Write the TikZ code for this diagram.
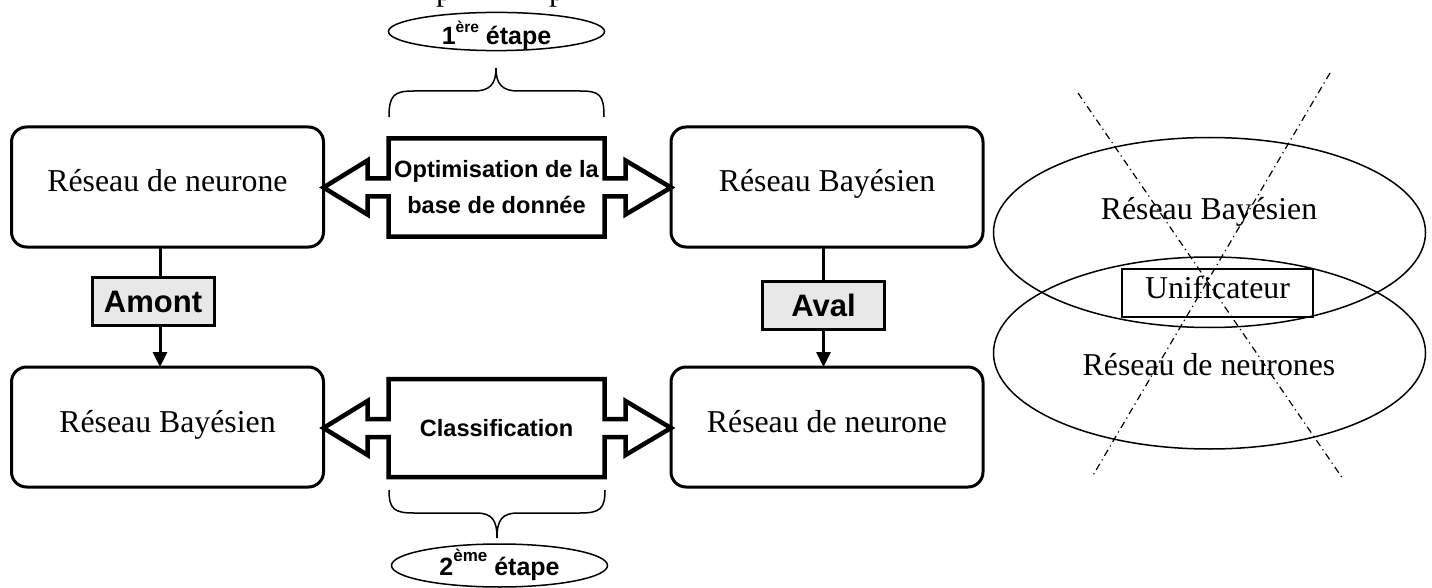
\documentclass[tikz,border=0pt]{standalone}
\usepackage{fontspec}
\setmainfont{Liberation Serif}
\newfontfamily\arialfont{Liberation Sans}
\usetikzlibrary{shapes.geometric,arrows.meta,calc}

% outline of a text box with a hollow double arrow on each side
% #1 = central node, #2 = left target node, #3 = right target node
\newcommand\hollowlink[3]{%
  \draw[linkshape]
    (#1.north west) -- (#1.north east)
    -- ($(#1.east)+(0,-9)$) -- ($(#1.east)+(21,-9)$) -- ($(#1.east)+(21,-27)$)
    -- (#3.west |- #1.east)
    -- ($(#1.east)+(21,27)$) -- ($(#1.east)+(21,9)$) -- ($(#1.east)+(0,9)$)
    -- (#1.south east) -- (#1.south west)
    -- ($(#1.west)+(0,9)$) -- ($(#1.west)+(-21,9)$) -- ($(#1.west)+(-21,27)$)
    -- (#2.east |- #1.west)
    -- ($(#1.west)+(-21,-27)$) -- ($(#1.west)+(-21,-9)$) -- ($(#1.west)+(0,-9)$)
    -- cycle;}

\begin{document}
\begin{tikzpicture}[x=1pt,y=-1pt,
  serifbig/.style={font=\fontsize{31.8}{38}\selectfont},
  netbox/.style={draw, line width=3pt, rounded corners=15pt, minimum width=312pt,
    minimum height=120pt, inner sep=0pt, outer sep=0pt, serifbig,
    text height=22pt, text depth=12pt},
  tagbox/.style={draw, line width=3pt, fill=black!9, minimum width=122pt,
    minimum height=48pt, inner sep=0pt, outer sep=0pt,
    font=\arialfont\bfseries\fontsize{31}{36}\selectfont,
    text height=22pt, text depth=0pt},
  core/.style={minimum width=216pt, minimum height=98pt, inner sep=0pt, outer sep=0pt,
    align=center, font=\arialfont\bfseries\fontsize{23.6}{36}\selectfont},
  linkshape/.style={line width=4.5pt, line join=miter},
  stage/.style={draw, ellipse, line width=1.5pt, inner sep=0pt, outer sep=0pt,
    minimum width=216pt, font=\arialfont\bfseries\fontsize{25}{30}\selectfont,
    text depth=0pt},
  bracepath/.style={line width=1.5pt},
  flow/.style={line width=3pt},
  flowarrow/.style={line width=3pt, -{Triangle[width=14pt,length=15pt]}},
  oval/.style={draw, ellipse, line width=1.5pt, inner sep=0pt, minimum width=432pt},
  crossline/.style={line width=1.2pt, dash pattern=on 7pt off 4pt on 1.2pt off 4pt}
]
\useasboundingbox (0,0) rectangle (1432,588);

% descenders of a line of text above the picture
\begin{scope}
\clip (0,0) rectangle (1432,588);
\node[serifbig, anchor=base, inner sep=0pt] (p1) at (444,1) {p};
\node[serifbig, anchor=base, inner sep=0pt] (p2) at (557,1) {p};
\end{scope}

% the four network boxes
\node[netbox] (b1) at (167.5,187) {Réseau de neurone};
\node[netbox] (b2) at (827,187) {Réseau Bayésien};
\node[netbox] (b3) at (167.5,427) {Réseau Bayésien};
\node[netbox] (b4) at (827,427) {Réseau de neurone};

% central steps with double hollow arrows
\node[core] (opt) at (496.5,187.5) {Optimisation de la\\base de donnée};
\node[core] (cls) at (496.5,428) {Classification};
\hollowlink{opt}{b1}{b2}
\hollowlink{cls}{b3}{b4}

% braces
\draw[bracepath] (389,117) .. controls (389,95) and (394,91) .. (414,91) -- (474,91)
  .. controls (490,91) and (496,84) .. (496,68)
  .. controls (496,84) and (502,91) .. (518,91) -- (580,91)
  .. controls (600,91) and (604,95) .. (604,117);
\draw[bracepath] (389,490) .. controls (389,509) and (394,513) .. (414,513) -- (476,513)
  .. controls (492,513) and (497,520) .. (497,538)
  .. controls (497,520) and (502,513) .. (518,513) -- (580,513)
  .. controls (600,513) and (605,509) .. (605,490);

% stage labels
\node[stage, minimum height=37pt, text height=27pt] (st1) at (496.5,31.5)
  {1\raisebox{12pt}{\fontsize{15.5}{15}\selectfont ère} étape};
\node[stage, minimum height=43pt, text height=19pt] (st2) at (499.5,565.5)
  {2\raisebox{14pt}{\fontsize{17}{17}\selectfont ème} étape};

% upstream / downstream links
\node[tagbox] (amont) at (153,301) {Amont};
\node[tagbox] (aval) at (823.5,305.5) {Aval};
\coordinate (xa) at (160,0);
\coordinate (xv) at (823.5,0);
\draw[flow] (b1.south -| xa) -- (amont.north -| xa);
\draw[flowarrow] (amont.south -| xa) -- (b3.north -| xa);
\draw[flow] (b2.south -| xv) -- (aval.north -| xv);
\draw[flowarrow] (aval.south -| xv) -- (b4.north -| xv);

% rejected unified model, crossed out
\node[oval, minimum height=190pt] (e1) at (1209.5,232.5) {};
\node[oval, minimum height=192pt] (e2) at (1209.5,353) {};
\node[serifbig, anchor=base, inner sep=0pt] (t1) at (1209,220) {Réseau Bayésien};
\node[serifbig, anchor=base, inner sep=0pt] (t2) at (1209,375) {Réseau de neurones};
\node[draw, line width=1.5pt, minimum width=191pt, minimum height=48pt, inner sep=0pt,
  serifbig, text height=22pt, text depth=12pt] (u) at (1217.5,293) {Unificateur};
\coordinate (c1a) at (1078,93);
\coordinate (c1b) at (1343,479);
\coordinate (c2a) at (1330,73);
\coordinate (c2b) at (1092,477);
\draw[crossline] (c1a) -- (c1b);
\draw[crossline] (c2a) -- (c2b);
\end{tikzpicture}
\end{document}
